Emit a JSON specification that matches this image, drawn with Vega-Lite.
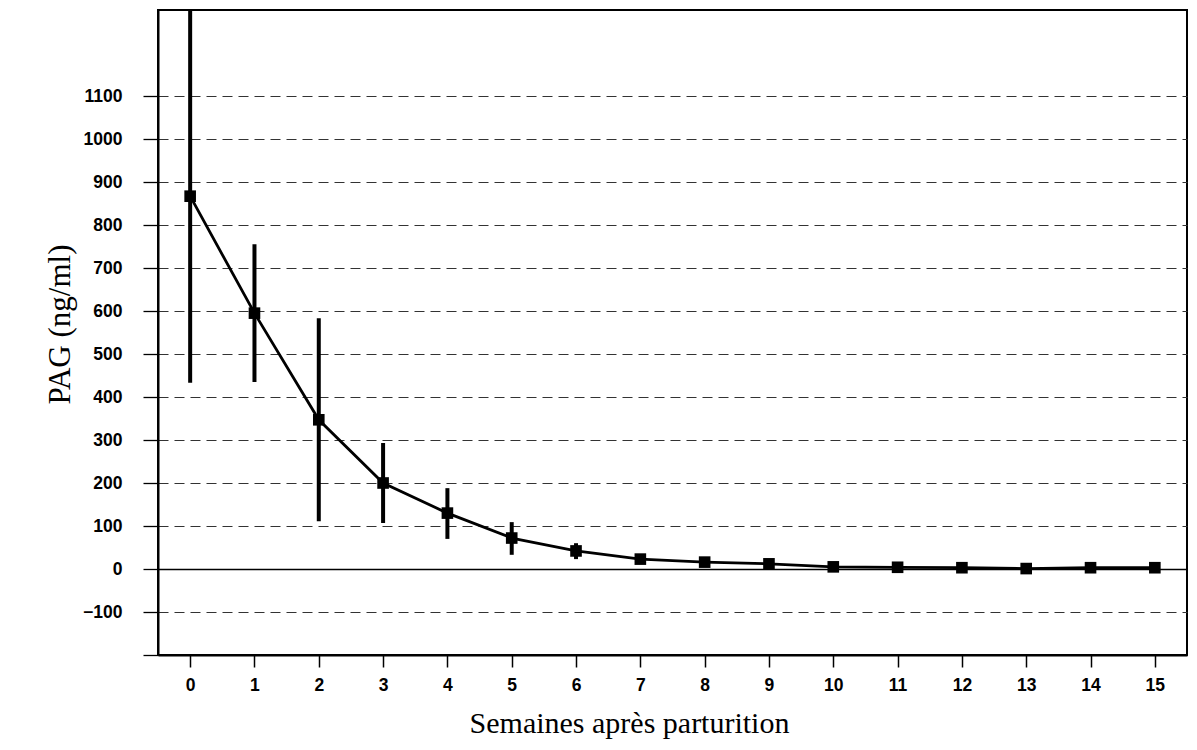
{
  "$schema": "https://vega.github.io/schema/vega-lite/v6.json",
  "autosize": {"type": "none"},
  "padding": {"left": 158, "top": 10, "right": 10, "bottom": 95},
  "width": 1029,
  "height": 645,
  "background": "white",
  "config": {
    "view": {"stroke": "black", "strokeWidth": 2},
    "axis": {"labelFont": "Liberation Sans", "labelFontWeight": "bold", "labelColor": "black", "titleFont": "Liberation Serif", "titleColor": "black", "titleFontWeight": "normal", "domainColor": "black", "tickColor": "black"}
  },
  "data": {
    "values": [
      {"week": 0, "pag": 867, "lo": 433, "hi": 1301},
      {"week": 1, "pag": 595, "lo": 435, "hi": 755},
      {"week": 2, "pag": 347, "lo": 111, "hi": 583},
      {"week": 3, "pag": 200, "lo": 107, "hi": 293},
      {"week": 4, "pag": 130, "lo": 70, "hi": 188},
      {"week": 5, "pag": 72, "lo": 33, "hi": 109},
      {"week": 6, "pag": 42, "lo": 23, "hi": 60},
      {"week": 7, "pag": 23, "lo": 21, "hi": 25},
      {"week": 8, "pag": 16, "lo": 14, "hi": 18},
      {"week": 9, "pag": 12, "lo": 10, "hi": 14},
      {"week": 10, "pag": 5, "lo": 4, "hi": 6},
      {"week": 11, "pag": 4, "lo": 3, "hi": 5},
      {"week": 12, "pag": 3, "lo": 2, "hi": 4},
      {"week": 13, "pag": 1, "lo": 0, "hi": 2},
      {"week": 14, "pag": 3, "lo": 2, "hi": 4},
      {"week": 15, "pag": 3, "lo": 2, "hi": 4}
    ]
  },
  "encoding": {
    "x": {
      "field": "week", "type": "quantitative",
      "scale": {"domain": [-0.5, 15.5], "nice": false, "zero": false},
      "axis": {
        "values": [0,1,2,3,4,5,6,7,8,9,10,11,12,13,14,15],
        "grid": false, "domainWidth": 2, "tickSize": 12, "tickWidth": 1.5,
        "labelFontSize": 17.5, "labelPadding": 9,
        "title": "Semaines après parturition", "titleFontSize": 30,
        "titleX": 471, "titleY": 77, "titleBaseline": "alphabetic", "titleAlign": "center"
      }
    },
    "y": {
      "field": "pag", "type": "quantitative",
      "scale": {"domain": [-200, 1300], "nice": false},
      "axis": {
        "values": [-200,-100,0,100,200,300,400,500,600,700,800,900,1000,1100],
        "labelExpr": "datum.value < -150 ? '' : datum.label",
        "format": "d",
        "grid": true,
        "gridColor": {"condition": {"test": "datum.value === 0", "value": "black"}, "value": "#333333"},
        "gridDash": {"condition": {"test": "datum.value === 0", "value": []}, "value": [10, 6]},
        "gridWidth": {"condition": {"test": "datum.value === 0", "value": 1.6}, "value": 1.2},
        "domainWidth": 2, "tickSize": 15, "tickWidth": 1.3,
        "labelFontSize": 17.5, "labelPadding": 21,
        "title": "PAG (ng/ml)", "titleFontSize": 31, "titleAngle": -90,
        "titleX": -98, "titleY": 314, "titleAlign": "center", "titleBaseline": "middle"
      }
    }
  },
  "layer": [
    {
      "mark": {"type": "rule", "strokeWidth": 4, "color": "black", "clip": true},
      "encoding": {"y": {"field": "lo", "type": "quantitative"}, "y2": {"field": "hi"}}
    },
    {
      "mark": {"type": "line", "strokeWidth": 2.8, "color": "black"}
    },
    {
      "mark": {"type": "point", "shape": "square", "filled": true, "size": 135, "color": "black", "opacity": 1}
    }
  ]
}
